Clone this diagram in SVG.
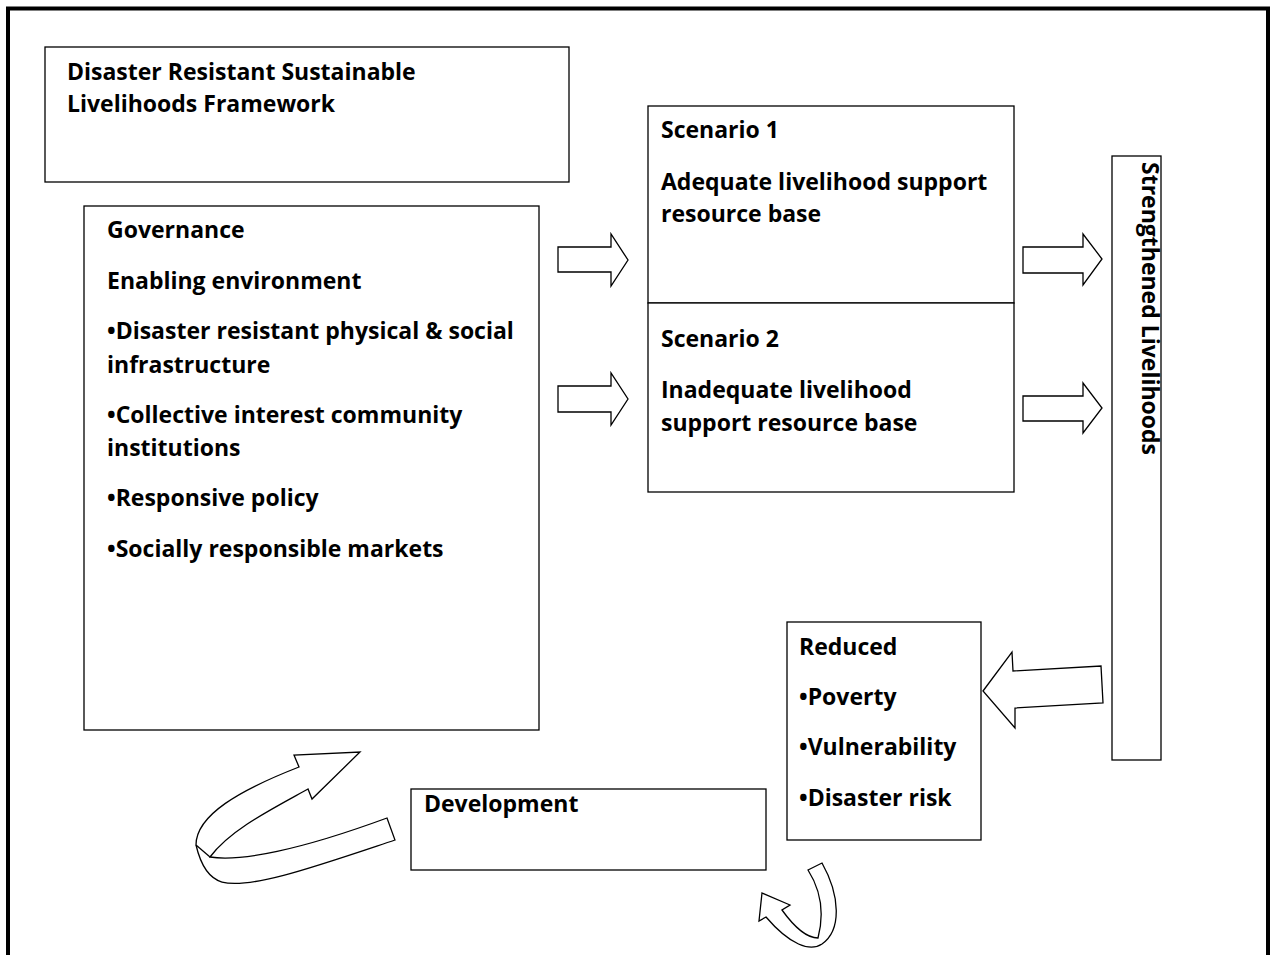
<svg xmlns="http://www.w3.org/2000/svg" width="1274" height="955" viewBox="0 0 1274 955">
<style>
.box{fill:#fff;stroke:#000;stroke-width:1.3}
.arr{fill:#fff;stroke:#000;stroke-width:1.3;stroke-linejoin:miter}
text{font-family:"Open Sans","Liberation Sans",sans-serif;font-weight:bold;font-size:23px;fill:#000}
</style>
<rect x="0" y="0" width="1274" height="955" fill="#fff"/>
<rect x="8" y="8.5" width="1260" height="1000" fill="none" stroke="#000" stroke-width="4"/>
<g id="title">
<rect class="box" x="45" y="47" width="524" height="135"/>
<text x="67" y="80">Disaster Resistant Sustainable</text>
<text x="67" y="112">Livelihoods Framework</text>
</g>
<g id="governance">
<rect class="box" x="84" y="206" width="455" height="524"/>
<text x="107" y="238">Governance</text>
<text x="107" y="289">Enabling environment</text>
<text x="107" y="339">•Disaster resistant physical &amp; social</text>
<text x="107" y="373">infrastructure</text>
<text x="107" y="423">•Collective interest community</text>
<text x="107" y="456">institutions</text>
<text x="107" y="506">•Responsive policy</text>
<text x="107" y="557">•Socially responsible markets</text>
</g>
<g id="scenario1">
<rect class="box" x="648" y="106" width="366" height="197"/>
<text x="661" y="138">Scenario 1</text>
<text x="661" y="190">Adequate livelihood support</text>
<text x="661" y="222">resource base</text>
</g>
<g id="scenario2">
<rect class="box" x="648" y="303" width="366" height="189"/>
<text x="661" y="347">Scenario 2</text>
<text x="661" y="398">Inadequate livelihood</text>
<text x="661" y="431">support resource base</text>
</g>
<g id="strengthened">
<rect class="box" x="1112" y="156" width="49" height="604"/>
<text transform="translate(1142,162) rotate(90)">Strengthened Livelihoods</text>
</g>
<g id="reduced">
<rect class="box" x="787" y="622" width="194" height="218"/>
<text x="799" y="655">Reduced</text>
<text x="799" y="705">•Poverty</text>
<text x="799" y="755">•Vulnerability</text>
<text x="799" y="806">•Disaster risk</text>
</g>
<g id="development">
<rect class="box" x="411" y="789" width="355" height="81"/>
<text x="424" y="812">Development</text>
</g>
<g id="connectors">
<path class="arr" d="M558,247 L611,247 L611,234 L628,260 L611,286 L611,272 L558,272 Z"/>
<path class="arr" d="M558,386 L611,386 L611,373 L628,399 L611,425 L611,412 L558,412 Z"/>
<path class="arr" d="M1023,247 L1083,247 L1083,234 L1102,259 L1083,285 L1083,273 L1023,273 Z"/>
<path class="arr" d="M1023,396 L1083,396 L1083,383 L1102,408 L1083,433 L1083,421 L1023,421 Z"/>
<path class="arr" d="M983,691 L1012,652 L1013,671 L1101,666 L1103,703 L1015,708 L1015,728 Z"/>
<path class="arr" d="M196,845 C196,815 240,790 299,767 L294,755 L360,752 L312,799 L308,789 C270,810 230,830 210,857 C240,862 300,850 387,818 L395,840 C320,865 250,890 222,882 C208,878 200,862 196,845 Z"/>
<path class="arr" d="M196,845 L210,857" fill="none"/>
<path class="arr" d="M808,870 L822,863 C840,895 842,930 822,944 C810,952 790,945 766,917 L759,921 L762,893 L790,905 L782,910 C795,928 808,938 818,938 C824,915 822,892 808,870 Z"/>
</g>
</svg>
